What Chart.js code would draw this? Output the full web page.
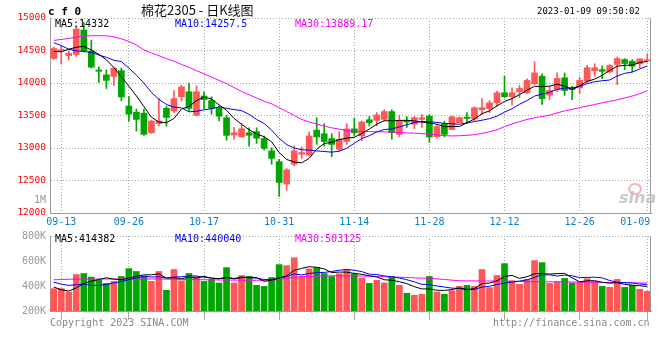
<!DOCTYPE html>
<html><head><meta charset="utf-8">
<script src="https://cdn.jsdelivr.net/npm/chart.js@4/dist/chart.umd.min.js"></script>
<style>
html,body{margin:0;padding:0;background:#fff;}
#wrap{position:relative;width:660px;height:360px;overflow:hidden;background:#fff;}
canvas{position:absolute;left:0;}
.t{position:absolute;white-space:pre;font-family:"DejaVu Sans Mono",monospace;line-height:1;}
</style></head><body>
<div id="wrap">
<canvas id="price" width="660" height="228" style="top:0px"></canvas>
<canvas id="vol" width="660" height="95" style="top:226px"></canvas>
<div class="t" style="left:48px;top:6px;font-size:11px;font-weight:bold;color:#000;">c f 0</div>
<div class="t" style="left:141px;top:3px;font-size:13px;font-family:'Noto Sans CJK SC',sans-serif;color:#111;">棉花2305 - 日K线图</div>
<div class="t" style="left:537px;top:7px;font-size:9px;color:#000;">2023-01-09 09:50:02</div>
<div class="t" style="left:55px;top:19px;font-size:10px;color:#000;">MA5:14332</div>
<div class="t" style="left:175px;top:19px;font-size:10px;color:#0000ff;">MA10:14257.5</div>
<div class="t" style="left:295px;top:19px;font-size:10px;color:#ff00ff;">MA30:13889.17</div>
<div class="t" style="left:34px;top:195px;font-size:10px;color:#999;">1M</div>
<div class="t" style="left:619px;top:190px;font-size:16px;font-style:italic;font-weight:bold;font-family:'DejaVu Sans',sans-serif;color:rgba(190,190,190,0.85);">sina</div>
<div style="position:absolute;left:628px;top:183px;width:10px;height:8px;border-radius:50%;border:2px solid rgba(240,150,150,0.7);"></div>
<div class="t" style="left:55px;top:234px;font-size:10px;color:#000;">MA5:414382</div>
<div class="t" style="left:175px;top:234px;font-size:10px;color:#0000ff;">MA10:440040</div>
<div class="t" style="left:295px;top:234px;font-size:10px;color:#ff00ff;">MA30:503125</div>
<div class="t" style="left:50px;top:318px;font-size:10px;color:#888;">Copyright 2023 SINA.COM</div>
<div class="t" style="left:493px;top:318px;font-size:10px;color:#888;">http://finance.sina.com.cn</div>
</div>
<script>
// ---------- data ----------
const dates = ['09-09','09-13','09-14','09-15','09-16','09-19','09-20','09-21','09-22','09-23',
'09-26','09-27','09-28','09-29','09-30','10-10','10-11','10-12','10-13','10-14',
'10-17','10-18','10-19','10-20','10-21','10-24','10-25','10-26','10-27','10-28',
'10-31','11-01','11-02','11-03','11-04','11-07','11-08','11-09','11-10','11-11',
'11-14','11-15','11-16','11-17','11-18','11-21','11-22','11-23','11-24','11-25',
'11-28','11-29','11-30','12-01','12-02','12-05','12-06','12-07','12-08','12-09',
'12-12','12-13','12-14','12-15','12-16','12-19','12-20','12-21','12-22','12-23',
'12-26','12-27','12-28','12-29','12-30','01-03','01-04','01-05','01-06','01-09'];
const tickDates = ['09-13','09-26','10-17','10-31','11-14','11-28','12-12','12-26','01-09'];

const opens = [14376,14500,14422,14440,14816,14490,14200,14125,14100,14190,
13645,13550,13535,13235,13375,13610,13570,13790,13865,13505,
13800,13730,13610,13465,13200,13175,13235,13250,13145,12955,
12790,12445,12750,12905,12890,13275,13220,13145,12980,13100,
13295,13185,13435,13425,13440,13560,13210,13425,13365,13440,
13490,13175,13375,13285,13390,13475,13450,13590,13605,13695,
13850,13790,13865,13850,13990,14105,13815,13900,14080,13925,
13925,14030,14190,14205,14170,14285,14360,14335,14295,14342];
const highs = [14555,14580,14494,14870,14930,14660,14250,14200,14244,14230,
13790,13600,13600,13430,13760,13645,13885,13965,14000,13955,
13865,13790,13645,13500,13315,13375,13310,13310,13185,13005,
12825,12685,13030,13015,13245,13465,13375,13220,13250,13375,
13455,13415,13485,13545,13590,13590,13505,13485,13485,13515,
13515,13355,13415,13490,13480,13545,13630,13760,13730,13875,
14105,13925,13960,14065,14325,14140,13950,14155,14155,13950,
14090,14270,14295,14260,14285,14400,14375,14360,14375,14450];
const lows = [14361,14290,14356,14410,14478,14230,14010,13915,13962,13725,
13410,13260,13195,13225,13340,13335,13545,13725,13565,13495,
13600,13520,13415,13120,13135,13160,13030,13070,12965,12750,
12255,12350,12725,12840,12875,13055,13030,12865,12955,13055,
13185,13110,13340,13340,13415,13135,13175,13315,13300,13315,
13085,13150,13170,13280,13380,13375,13415,13515,13545,13645,
13775,13660,13775,13835,13975,13670,13745,13865,13810,13745,
13835,14005,14105,14065,14155,13975,14205,14170,14235,14320];
const closes = [14530,14510,14458,14830,14494,14244,14180,14040,14228,13785,
13520,13440,13210,13415,13415,13470,13760,13940,13610,13865,
13745,13610,13490,13195,13235,13295,13195,13150,12995,12840,
12470,12665,12955,12930,13185,13170,13100,13055,13135,13295,
13235,13400,13390,13510,13560,13235,13425,13400,13465,13465,
13170,13330,13210,13480,13465,13455,13620,13620,13695,13850,
13790,13850,13915,14040,14155,13760,13885,14070,13885,13900,
14040,14235,14235,14180,14270,14375,14300,14260,14370,14356];

// moving-average values before enough days are on the chart
const ma5Head = [14485,14480,14520,14550];
const ma10Head = [14620,14575,14520,14495,14485,14470,14430,14395,14350];
// MA30 line
const ma30 = [14655,14670,14685,14705,14720,14728,14728,14726,14710,14680,
14640,14585,14510,14460,14420,14375,14335,14285,14240,14190,
14140,14090,14040,13990,13930,13870,13820,13770,13720,13680,
13620,13560,13500,13440,13400,13370,13335,13310,13290,13270,
13258,13255,13252,13250,13248,13245,13240,13232,13228,13222,
13212,13200,13190,13186,13188,13195,13205,13225,13250,13280,
13330,13370,13405,13440,13465,13485,13505,13540,13570,13595,
13620,13645,13670,13695,13718,13742,13770,13800,13835,13880];

const volumes = [379000,379000,352000,492000,500000,471000,445000,421000,437000,476000,
539000,516000,479000,437000,516000,366000,532000,442000,500000,476000,
437000,453000,424000,547000,424000,484000,476000,405000,397000,468000,
571000,563000,626000,476000,537000,547000,500000,476000,498000,532000,
498000,463000,421000,445000,424000,476000,405000,342000,326000,334000,
476000,352000,334000,363000,397000,405000,397000,532000,387000,484000,
579000,442000,413000,453000,603000,587000,421000,432000,461000,424000,
432000,458000,437000,397000,389000,453000,389000,405000,374000,358000];
const volMa5Head = [392000,370000,360000,385000];
const volMa10Head = [430000,415000,405000,410000,415000,405000,405000,412000,425000];
const volMa30 = [450000,452000,454000,455000,456000,456000,456000,456000,456000,456000,
456000,456000,456000,456000,456000,455000,454000,453000,452000,451000,
450000,449000,448000,448000,447000,447000,446000,446000,446000,448000,
452000,460000,470000,474000,476000,478000,480000,482000,482000,481000,
480000,480000,478000,476000,474000,472000,470000,468000,465000,463000,
462000,457000,452000,447000,442000,441000,441000,440000,440000,440000,
438000,437000,436000,434000,434000,434000,434000,434000,433000,432000,
431000,430000,430000,429000,428000,427000,426000,425000,424000,424000];

const priceMin = 12000, priceMax = 15000, priceStep = 500;
const volMin = 200000, volMax = 800000;
const volTickLabels = [200000,400000,600000,800000];
const volGridTicks = [326000,484000,642000,800000];

// ---------- helpers ----------
function movingAvg(src, n, head) {
  return src.map((_, i) => {
    if (i < n - 1) return head[i];
    let s = 0;
    for (let k = i - n + 1; k <= i; k++) s += src[k];
    return s / n;
  });
}
const RED = '#ff5656', GREEN = '#00a600', GRID = '#a8a8a8', AXIS = '#9a9a9a', NONE = 'rgba(0,0,0,0)';
const MONO = "'DejaVu Sans Mono', monospace";
const DOT = [1, 2];
const up = closes.map((c, i) => c >= opens[i]);
const colors = up.map(u => u ? RED : GREEN);
const tickSet = new Set(tickDates);
const gridX = ctx => (ctx.tick && tickSet.has(dates[ctx.index])) ? GRID : NONE;

const frame = {
  id: 'frame',
  afterDraw(c) {
    const {ctx, chartArea: a} = c;
    ctx.save();
    ctx.strokeStyle = AXIS; ctx.lineWidth = 1;
    const x = Math.round(a.right) - 0.5;
    ctx.beginPath(); ctx.moveTo(x, a.top); ctx.lineTo(x, a.bottom); ctx.stroke();
    ctx.restore();
  }
};
const fixX = h => s => { s.height = h; s.paddingLeft = 0; s.paddingRight = 0; };
const fixY = s => { s.width = 50; };

Chart.defaults.font.family = MONO;
Chart.defaults.animation = false;

new Chart(document.getElementById('price'), {
  type: 'bar',
  data: {
    labels: dates,
    datasets: [
      { type: 'line', data: movingAvg(closes, 5, ma5Head), borderColor: '#000', borderWidth: 1, pointRadius: 0, order: 0 },
      { type: 'line', data: movingAvg(closes, 10, ma10Head), borderColor: '#0000ff', borderWidth: 1, pointRadius: 0, order: 0 },
      { type: 'line', data: ma30, borderColor: '#ff00ff', borderWidth: 1, pointRadius: 0, order: 0 },
      { data: opens.map((o, i) => [o, closes[i]]), backgroundColor: colors, barThickness: 6, grouped: false, minBarLength: 1, order: 2 },
      { data: lows.map((l, i) => [l, highs[i]]), backgroundColor: colors, barThickness: 1, grouped: false, order: 3 }
    ]
  },
  options: {
    responsive: false, devicePixelRatio: 1,
    layout: { padding: { top: 18, right: 9, left: 0, bottom: 0 } },
    plugins: { legend: { display: false }, tooltip: { enabled: false } },
    scales: {
      x: {
        offset: true,
        grid: { offset: false, color: gridX, drawTicks: false },
        border: { display: true, color: AXIS, dash: DOT },
        ticks: {
          autoSkip: false, maxRotation: 0, minRotation: 0, padding: 3,
          color: '#0a7fd2', font: { size: 10, family: MONO },
          callback: (v, i) => tickSet.has(dates[i]) ? (i === dates.length - 1 ? dates[i] + '    ' : dates[i]) : ''
        },
        afterFit: fixX(15)
      },
      y: {
        min: priceMin, max: priceMax,
        grid: { color: GRID, drawTicks: false },
        border: { display: true, color: AXIS, dash: DOT },
        ticks: { stepSize: priceStep, color: '#ff0000', padding: 4, font: { size: 9.5, family: MONO },
          callback: v => String(v) },
        afterFit: fixY
      }
    }
  },
  plugins: [frame]
});

new Chart(document.getElementById('vol'), {
  type: 'bar',
  data: {
    labels: dates,
    datasets: [
      { type: 'line', data: movingAvg(volumes, 5, volMa5Head), borderColor: '#000', borderWidth: 1, pointRadius: 0, order: 0 },
      { type: 'line', data: movingAvg(volumes, 10, volMa10Head), borderColor: '#0000ff', borderWidth: 1, pointRadius: 0, order: 0 },
      { type: 'line', data: volMa30, borderColor: '#ff00ff', borderWidth: 1, pointRadius: 0, order: 0 },
      { data: volumes.map(v => [volMin, v]), backgroundColor: colors, barThickness: 6, grouped: false, order: 2 }
    ]
  },
  options: {
    responsive: false, devicePixelRatio: 1,
    layout: { padding: { top: 10, right: 9, left: 0, bottom: 0 } },
    plugins: { legend: { display: false }, tooltip: { enabled: false } },
    scales: {
      x: {
        offset: true,
        grid: { offset: false, color: gridX, drawTicks: true, tickLength: 9 },
        border: { display: true, color: AXIS, dash: DOT },
        ticks: { display: false },
        afterFit: fixX(10)
      },
      y: {
        min: volMin, max: volMax,
        afterBuildTicks: s => {
          s.ticks = [...new Set([...volTickLabels, ...volGridTicks])].sort((a, b) => a - b).map(v => ({ value: v }));
        },
        grid: { color: ctx => (ctx.tick && volGridTicks.includes(ctx.tick.value)) ? GRID : NONE, drawTicks: false },
        border: { display: true, color: AXIS, dash: DOT },
        ticks: {
          color: '#999', padding: 4, font: { size: 10, family: MONO },
          callback: v => volTickLabels.includes(v) ? (v / 1000) + 'K' : ''
        },
        afterFit: fixY
      }
    }
  },
  plugins: [frame]
});
</script>
</body></html>
